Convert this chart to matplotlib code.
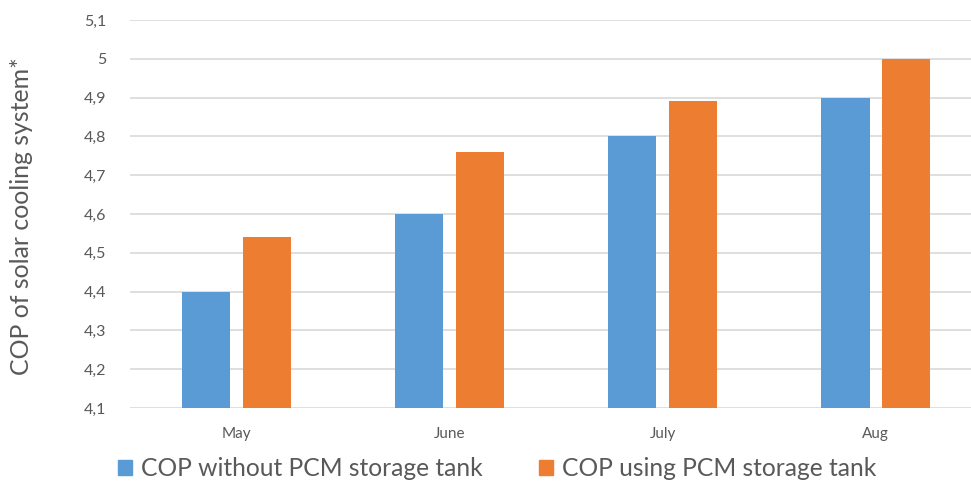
import matplotlib
matplotlib.use("Agg")
import matplotlib.pyplot as plt
import numpy as np
from matplotlib.patches import Patch
from matplotlib.ticker import FixedLocator, FuncFormatter

months = ["May", "June", "July", "Aug"]
cop_without = [4.4, 4.6, 4.8, 4.9]
cop_with = [4.54, 4.76, 4.89, 5.0]
series_names = ["COP without PCM storage tank", "COP using PCM storage tank"]
yticks = [4.1, 4.2, 4.3, 4.4, 4.5, 4.6, 4.7, 4.8, 4.9, 5.0, 5.1]

plt.rcParams['font.family'] = ['Lato', 'DejaVu Sans']
BLUE = "#5B9BD5"
ORANGE = "#ED7D31"
GRAY = "#595959"

W, H = 971, 483
fig = plt.figure(figsize=(W / 100, H / 100), dpi=100)
ax = fig.add_axes([130 / W, 1 - 408 / H, (W - 130) / W, 388 / H])

x = np.arange(len(months))
bw = 0.226
off = 0.142
ax.bar(x - off, np.array(cop_without) - 4.1, bw, bottom=4.1, color=BLUE, zorder=3)
ax.bar(x + off, np.array(cop_with) - 4.1, bw, bottom=4.1, color=ORANGE, zorder=3)

ax.set_ylim(4.1, 5.1)
ax.set_xlim(-0.5, 3 + (W - 876) / 212.5)
ax.yaxis.set_major_locator(FixedLocator(yticks))
ax.yaxis.set_major_formatter(FuncFormatter(lambda v, p: (f"{v:.1f}".rstrip('0').rstrip('.')).replace('.', ',')))
ax.grid(axis='y', color="#D9D9D9", linewidth=1.2, zorder=0)
for s in ax.spines.values():
    s.set_visible(False)
ax.tick_params(axis='y', length=0, pad=17, labelsize=11.5, labelcolor=GRAY)
ax.tick_params(axis='x', length=0, pad=14, labelsize=11, labelcolor=GRAY)
ax.set_xticks(x)
ax.set_xticklabels(months)
fig.text(22 / W, 1 - 216 / H, "COP of solar cooling system*", rotation=90,
         ha='center', va='center', fontsize=17.9, color=GRAY)

handles = [Patch(color=BLUE), Patch(color=ORANGE)]
fig.legend(handles, series_names, loc='center left', bbox_to_anchor=(108 / W, 1 - 469 / H),
           ncol=2, frameon=False, fontsize=17.7, labelcolor=GRAY, handlelength=0.57,
           handleheight=0.57, handletextpad=0.37, columnspacing=2.28, borderaxespad=0)

fig.savefig("out.png", dpi=100)
